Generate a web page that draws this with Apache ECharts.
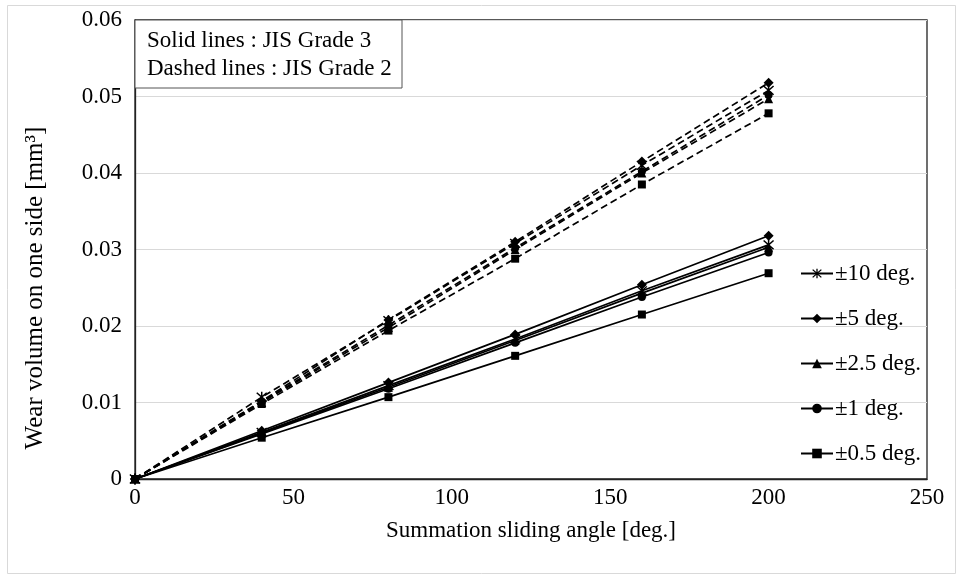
<!DOCTYPE html>
<html>
<head>
<meta charset="utf-8">
<script src="https://cdn.jsdelivr.net/npm/echarts@6/dist/echarts.min.js"></script>
<style>
  html, body { margin: 0; padding: 0; background: #fff; }
  #chart { width: 957px; height: 579px; }
</style>
</head>
<body>
<div id="chart"></div>
<script>
// Summation sliding angle [deg.]
const angles = [0, 40, 80, 120, 160, 200];

// Oscillation amplitudes
const amplitudes = ['±10 deg.', '±5 deg.', '±2.5 deg.', '±1 deg.', '±0.5 deg.'];

// JIS Grade 3 (solid lines), wear volume [mm³]
const grade3_10 = [0, 0.0061, 0.0122, 0.0183, 0.0246, 0.0306];
const grade3_5 = [0, 0.0063, 0.0126, 0.0189, 0.0254, 0.0318];
const grade3_2_5 = [0, 0.0060, 0.0120, 0.0181, 0.0243, 0.0303];
const grade3_1 = [0, 0.0059, 0.0118, 0.0178, 0.0238, 0.0296];
const grade3_0_5 = [0, 0.0054, 0.0107, 0.0161, 0.0215, 0.0269];

// JIS Grade 2 (dashed lines), wear volume [mm³]
const grade2_10 = [0, 0.0107, 0.0207, 0.0308, 0.0410, 0.0508];
const grade2_5 = [0, 0.0102, 0.0208, 0.0310, 0.0415, 0.0518];
const grade2_2_5 = [0, 0.0100, 0.0198, 0.0300, 0.0400, 0.0497];
const grade2_1 = [0, 0.0101, 0.0201, 0.0302, 0.0402, 0.0502];
const grade2_0_5 = [0, 0.0098, 0.0194, 0.0288, 0.0385, 0.0478];

// Axis ticks
const xTicks = [0, 50, 100, 150, 200, 250];
const yTicks = [0, 0.01, 0.02, 0.03, 0.04, 0.05, 0.06];

const xTitle = 'Summation sliding angle [deg.]';
const yTitle = 'Wear volume on one side [mm³]';
const noteLines = ['Solid lines : JIS Grade 3', 'Dashed lines : JIS Grade 2'];

// asterisk marker: vertical bar plus two diagonals
const asterisk = 'path://M4.4,0 L5.6,0 L5.6,10 L4.4,10 Z ' +
  'M1.42,0.58 L9.42,8.58 L8.58,9.42 L0.58,1.42 Z ' +
  'M8.58,0.58 L9.42,1.42 L1.42,9.42 L0.58,8.58 Z';

const markers = [
  { symbol: asterisk, size: 11 },
  { symbol: 'diamond', size: 10 },
  { symbol: 'triangle', size: 9 },
  { symbol: 'circle', size: 8 },
  { symbol: 'rect', size: 8 }
];

const grade3 = [grade3_10, grade3_5, grade3_2_5, grade3_1, grade3_0_5];
const grade2 = [grade2_10, grade2_5, grade2_2_5, grade2_1, grade2_0_5];

const FONT = '"Liberation Serif", "Times New Roman", serif';
const FS = 23;

function pairs(vals) {
  return angles.map((a, i) => [a, vals[i]]);
}

const series = [];
grade2.forEach((vals, k) => {
  series.push({
    name: amplitudes[k] + ' (Grade 2)',
    type: 'line',
    data: pairs(vals),
    symbol: markers[k].symbol,
    symbolSize: markers[k].size,
    showAllSymbol: true,
    lineStyle: { color: '#000', width: 1.7, type: [7, 4] },
    itemStyle: { color: '#000' },
    z: 2
  });
});
grade3.forEach((vals, k) => {
  series.push({
    name: amplitudes[k],
    type: 'line',
    data: pairs(vals),
    symbol: markers[k].symbol,
    symbolSize: markers[k].size,
    showAllSymbol: true,
    lineStyle: { color: '#000', width: 1.7, type: 'solid' },
    itemStyle: { color: '#000' },
    z: 3
  });
});

const chart = echarts.init(document.getElementById('chart'), null, { renderer: 'canvas' });

chart.setOption({
  animation: false,
  backgroundColor: '#fff',
  textStyle: { fontFamily: FONT },
  grid: { left: 135, top: 20, right: 30, bottom: 100, containLabel: false,
          show: true, borderColor: '#222', borderWidth: 1.3, backgroundColor: 'transparent' },
  xAxis: {
    type: 'value',
    min: xTicks[0],
    max: xTicks[xTicks.length - 1],
    interval: xTicks[1] - xTicks[0],
    name: xTitle,
    nameLocation: 'middle',
    nameGap: 40,
    nameTextStyle: { fontFamily: FONT, fontSize: FS, color: '#000' },
    axisLine: { show: true, onZero: false, lineStyle: { color: '#222', width: 1.3 } },
    axisTick: { show: false },
    splitLine: { show: false },
    axisLabel: { fontFamily: FONT, fontSize: FS, color: '#000', margin: 7 }
  },
  yAxis: {
    type: 'value',
    min: yTicks[0],
    max: yTicks[yTicks.length - 1],
    interval: yTicks[1] - yTicks[0],
    axisLine: { show: true, onZero: false, lineStyle: { color: '#222', width: 1.3 } },
    axisTick: { show: false },
    splitLine: { show: true, lineStyle: { color: '#d9d9d9', width: 1 } },
    axisLabel: {
      fontFamily: FONT, fontSize: FS, color: '#000', margin: 13,
      formatter: v => {
        const r = Math.round(v * 100) / 100;
        return r === 0 ? '0' : r.toFixed(2);
      }
    }
  },
  legend: {
    data: amplitudes,
    orient: 'vertical',
    left: 795,
    top: 257,
    itemWidth: 32,
    itemHeight: 12,
    itemGap: 22,
    textStyle: { fontFamily: FONT, fontSize: FS, color: '#000', padding: [0, 0, 0, -3] },
    selectedMode: false
  },
  graphic: [
    {
      type: 'rect',
      shape: { x: 7.5, y: 5.5, width: 948, height: 568 },
      style: { fill: 'none', stroke: '#d9d9d9', lineWidth: 1 },
      silent: true, z: -10
    },
    {
      // vertical axis title
      type: 'text',
      x: 35, y: 288,
      rotation: Math.PI / 2,
      style: { text: yTitle, font: '25px ' + FONT, fill: '#000', align: 'center', verticalAlign: 'middle' },
      silent: true, z: 11
    },
    {
      type: 'rect',
      shape: { x: 135, y: 20, width: 267, height: 68 },
      style: { fill: '#fff', stroke: '#555', lineWidth: 1 },
      silent: true, z: 10
    },
    {
      type: 'text',
      left: 147, top: 29,
      style: { text: noteLines[0], font: FS + 'px ' + FONT, fill: '#000' },
      silent: true, z: 11
    },
    {
      type: 'text',
      left: 147, top: 57,
      style: { text: noteLines[1], font: FS + 'px ' + FONT, fill: '#000' },
      silent: true, z: 11
    }
  ],
  series: series
});
</script>
</body>
</html>
